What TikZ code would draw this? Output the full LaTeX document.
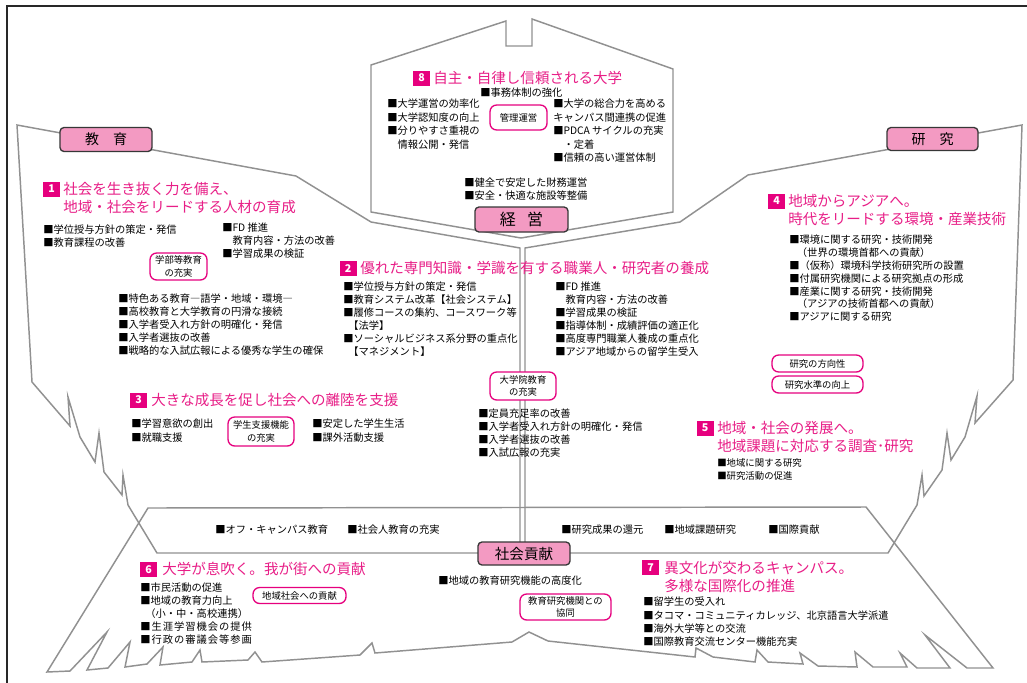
\documentclass[tikz,border=0pt]{standalone}
\usepackage{fontspec}
\setmainfont{Noto Sans CJK JP}
\definecolor{mag}{RGB}{230,0,126}
\definecolor{headc}{RGB}{232,30,135}
\definecolor{lblpink}{RGB}{243,154,194}
\definecolor{lblborder}{RGB}{55,55,55}
\definecolor{shapegray}{RGB}{145,145,145}
\definecolor{framec}{RGB}{40,40,40}
\newcommand\trk[1]{\trkloop#1\relax}
\def\trkloop#1{\ifx\relax#1\else#1\kern0.75pt\expandafter\trkloop\fi}
\newcommand\txtlines[6]{\foreach \ltext [count=\lnum] in {#6} {\node[#5] (#1\lnum) at (#2,{#3+(\lnum-1)*#4}) {\ltext};}}
\begin{document}
\begin{tikzpicture}[x=0.75pt,y=-0.75pt,
  shp/.style={draw=shapegray, line width=1.1pt, line join=miter},
  lbl/.style={draw=lblborder, fill=lblpink, rounded corners=3pt, line width=1pt, inner sep=0, text=black},
  sbox/.style={draw=mag, fill=white, rounded corners=5pt, line width=1pt, inner sep=0, align=center, font=\fontsize{7pt}{9.2pt}\selectfont},
  body/.style={anchor=base west, inner sep=0, yshift=-2.93pt, font=\fontsize{7.7pt}{9.75pt}\selectfont},
  bodys/.style={anchor=base west, inner sep=0, yshift=-2.68pt, font=\fontsize{7.05pt}{9pt}\selectfont},
  head/.style={anchor=base west, inner sep=0, yshift=-4.14pt, text=headc, font=\fontsize{10.9pt}{13pt}\selectfont},
  num/.style={fill=mag, text=white, inner sep=0, minimum width=12.75pt, minimum height=11.25pt, font=\bfseries\fontsize{8pt}{8pt}\selectfont}
]
\useasboundingbox (0,0) rectangle (1027,682);
\fill[white] (0,0) rectangle (1027,682);

% social contribution shape (bottom)
\draw[shp] (148,508) -- (866,507) -- (993,668) -- (967,668) -- (925,635) -- (950,668) -- (917,668) -- (900,653) -- (907,667) -- (873,667) -- (855,652) -- (857,667) -- (818,666) -- (800,653) -- (803,664) -- (768,662) -- (757,650) -- (755,662) -- (713,657) -- (696,648) -- (695,657) -- (548,641) -- (529,632) -- (512,642) -- (375,653) -- (372,643) -- (360,655) -- (262,662) -- (255,652) -- (248,660) -- (202,662) -- (200,650) -- (192,662) -- (160,665) -- (163,647) -- (147,664) -- (125,667) -- (130,642) -- (108,668) -- (87,670) -- (107,632) -- (70,671) -- (47,672) -- cycle;
% education shape (left)
\draw[shp] (17,125) -- (296,176) -- (371,222) -- (520,248) -- (520,553) -- (157,553) -- (128,505) -- (123,475) -- (122,495) -- (104,472) -- (99,433) -- (95,462) -- (80,437) -- (68,397) -- (70,426) -- (32,382) -- cycle;
% research shape (right)
\draw[shp] (1022,125) -- (748,175) -- (680,222) -- (525,248) -- (525,553) -- (888,553) -- (917,505) -- (922,475) -- (924,496) -- (942,470) -- (947,433) -- (951,460) -- (965,437) -- (977,396) -- (975,423) -- (1013,380) -- cycle;
% management shape (top)
\draw[shp] (371,65) -- (506,21) -- (506,46) -- (532,46) -- (532,19) -- (673,69) -- (673,212) -- (521,238) -- (371,212) -- cycle;
% outer frame
\draw[framec, line width=1.1pt] (7,690) -- (7,6) -- (1035,6);

% ---- 8 management
\node[num] (n8) at (421.5,78) {8};
\node[head] (h8) at (433,78) {自主・自律し信頼される大学};
\node[body] (m0) at (480,93) {■事務体制の強化};
\txtlines{mL}{387}{104}{13.5}{body}{■大学運営の効率化,■大学認知度の向上,■分りやすさ重視の,　情報公開・発信}
\txtlines{mR}{553}{104}{13.5}{body}{■大学の総合力を高める,キャンパス間連携の促進,■PDCA サイクルの充実,　・定着,■信頼の高い運営体制}
\txtlines{mB}{464}{183}{12.5}{body}{■健全で安定した財務運営,■安全・快適な施設等整備}
\node[sbox, minimum width=42.75pt, minimum height=18.75pt] (bKanri) at (518.5,117.5) {管理運営};

% ---- 1 education
\node[num] (n1) at (51.5,189) {1};
\txtlines{h1}{63}{189}{17.5}{head}{社会を生き抜く力を備え、,地域・社会をリードする人材の育成}
\txtlines{eA}{43}{230}{13}{body}{■学位授与方針の策定・発信,■教育課程の改善}
\txtlines{eB}{222}{228}{13}{body}{■FD 推進,　教育内容・方法の改善,■学習成果の検証}
\node[sbox, minimum width=42.75pt, minimum height=20.25pt] (bGakubu) at (178.5,266.5) {学部等教育\\の充実};
\txtlines{eC}{118}{299}{12.8}{body}{■特色ある教育―語学・地域・環境―,■高校教育と大学教育の円滑な接続,■入学者受入れ方針の明確化・発信,■入学者選抜の改善,■戦略的な入試広報による優秀な学生の確保}

% ---- 2 graduate
\node[num] (n2) at (348,268.5) {2};
\node[head] (h2) at (360,268) {優れた専門知識・学識を有する職業人・研究者の養成};
\txtlines{gA}{343}{287}{13}{body}{■学位授与方針の策定・発信,■教育システム改革【社会システム】,■履修コースの集約、コースワーク等,\hspace{0.5em}【法学】,■ソーシャルビジネス系分野の重点化,\hspace{0.5em}【マネジメント】}
\txtlines{gB}{555}{287}{13}{body}{■FD 推進,　教育内容・方法の改善,■学習成果の検証,■指導体制・成績評価の適正化,■高度専門職業人養成の重点化,■アジア地域からの留学生受入}
\node[sbox, minimum width=49.5pt, minimum height=21pt] (bDaigakuin) at (523,386) {大学院教育\\の充実};
\txtlines{gC}{478}{414}{13}{body}{■定員充足率の改善,■入学者受入れ方針の明確化・発信,■入学者選抜の改善,■入試広報の充実}

% ---- 3 student support
\node[num] (n3) at (138.5,400) {3};
\node[head] (h3) at (151,400) {大きな成長を促し社会への離陸を支援};
\txtlines{sA}{131}{424}{14}{body}{■学習意欲の創出,■就職支援}
\txtlines{sB}{312}{424}{14}{body}{■安定した学生生活,■課外活動支援}
\node[sbox, minimum width=49.5pt, minimum height=21.75pt] (bGakusei) at (261,431.5) {学生支援機能\\の充実};

% ---- band
\node[body] (band1) at (215,530) {■オフ・キャンパス教育};
\node[body] (band2) at (347,530) {■社会人教育の充実};
\node[body] (band3) at (561,530) {■研究成果の還元};
\node[body] (band4) at (664,530) {■地域課題研究};
\node[body] (band5) at (768,530) {■国際貢献};

% ---- 4 research
\node[num] (n4) at (776.5,201) {4};
\txtlines{h4}{788}{201}{18}{head}{地域からアジアへ。,時代をリードする環境・産業技術}
\txtlines{rA}{789}{240}{12.8}{body}{■環境に関する研究・技術開発,\hspace{0.75em}（世界の環境首都への貢献）,■（仮称）環境科学技術研究所の設置,■付属研究機関による研究拠点の形成,■産業に関する研究・技術開発,\hspace{0.75em}（アジアの技術首都への貢献）,■アジアに関する研究}
\node[sbox, minimum width=68.25pt, minimum height=12.75pt] (bHoko) at (817.5,363.5) {研究の方向性};
\node[sbox, minimum width=68.25pt, minimum height=12.75pt] (bSuijun) at (817.5,384.5) {研究水準の向上};

% ---- 5 regional
\node[num] (n5) at (705,428) {5};
\txtlines{h5}{717}{428}{18}{head}{地域・社会の発展へ。,地域課題に対応する調査･研究}
\txtlines{rB}{717}{463}{13}{bodys}{■地域に関する研究,■研究活動の促進}

% ---- 6 community
\node[num] (n6) at (148.5,569.5) {6};
\node[head] (h6) at (162,569) {大学が息吹く。我が街への貢献};
\txtlines{cA}{140}{588}{13}{body}{■市民活動の促進,■地域の教育力向上,\hspace{0.5em}（小・中・高校連携）,\trk{■生涯学習機会の提供},\trk{■行政の審議会等参画}}
\node[sbox, minimum width=69.75pt, minimum height=12pt] (bChiiki) at (299.5,595.5) {地域社会への貢献};
\node[body] (cM) at (438,581) {■地域の教育研究機能の高度化};
\node[sbox, minimum width=68.25pt, minimum height=19.5pt] (bKyodo) at (565.5,607) {教育研究機関との\\協同};

% ---- 7 international
\node[num] (n7) at (650.5,567.5) {7};
\txtlines{h7}{664}{568}{17.5}{head}{異文化が交わるキャンパス。,多様な国際化の推進}
\txtlines{iA}{643}{602}{13.3}{body}{■留学生の受入れ,■タコマ・コミュニティカレッジ、北京語言大学派遣,■海外大学等との交流,■国際教育交流センター機能充実}

% ---- category labels
\node[lbl, minimum width=69pt, minimum height=18pt, font=\fontsize{10.5pt}{10.5pt}\selectfont] (lEdu) at (106,139.5) {教\hspace{1em}育};
\node[lbl, minimum width=68.25pt, minimum height=17.25pt, font=\fontsize{10.5pt}{10.5pt}\selectfont] (lRes) at (932.5,139) {研\hspace{1em}究};
\node[lbl, minimum width=69.75pt, minimum height=18.75pt, font=\fontsize{12pt}{12pt}\selectfont] (lMan) at (521.5,219.5) {経\hspace{0.7em}営};
\node[lbl, minimum width=69pt, minimum height=17.25pt, font=\fontsize{10.9pt}{10.9pt}\selectfont] (lSoc) at (524,553.5) {社会貢献};
\end{tikzpicture}
\end{document}
